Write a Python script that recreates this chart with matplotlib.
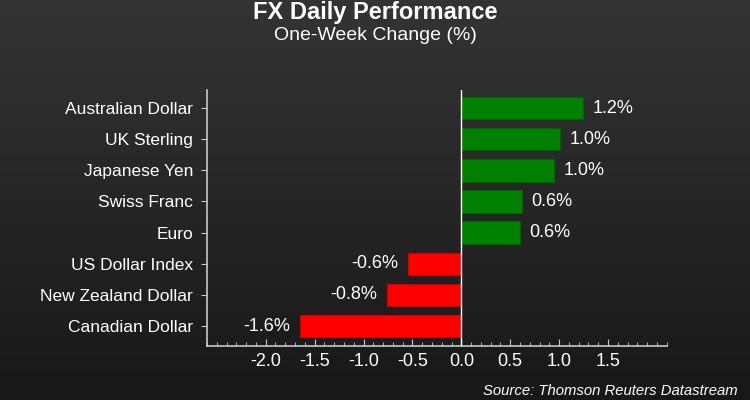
import numpy as np
import matplotlib.pyplot as plt
from matplotlib.ticker import MultipleLocator
from matplotlib.colors import LinearSegmentedColormap

# Daten
waehrungen = ['Australian Dollar', 'UK Sterling', 'Japanese Yen', 'Swiss Franc',
              'Euro', 'US Dollar Index', 'New Zealand Dollar', 'Canadian Dollar']
aenderung = [1.24, 1.01, 0.95, 0.62, 0.60, -0.55, -0.76, -1.65]
beschriftung = ['1.2%', '1.0%', '1.0%', '0.6%', '0.6%', '-0.6%', '-0.8%', '-1.6%']
x_ticks = [-2.0, -1.5, -1.0, -0.5, 0.0, 0.5, 1.0, 1.5]

plt.rcParams['font.family'] = ['Liberation Sans', 'DejaVu Sans']

fig = plt.figure(figsize=(7.5, 4), dpi=100)

# Hintergrund mit Verlauf
bg = fig.add_axes([0, 0, 1, 1], zorder=-1)
verlauf = np.linspace(0, 1, 256).reshape(-1, 1)
bg.imshow(verlauf, aspect='auto', extent=[0, 1, 0, 1],
          cmap=LinearSegmentedColormap.from_list('bg', ['#343434', '#181818']))
bg.axis('off')

ax = fig.add_axes([0.276, 0.135, 0.613, 0.64])
ax.set_facecolor('none')

y = np.arange(len(waehrungen))
farben = ['#008000' if v >= 0 else '#ff0000' for v in aenderung]
kanten = ['#006400' if v >= 0 else '#d00000' for v in aenderung]
ax.barh(y, aenderung, height=0.72, color=farben, edgecolor=kanten, linewidth=0.8, zorder=2)

for yi, v, txt in zip(y, aenderung, beschriftung):
    if v >= 0:
        ax.annotate(txt, (v, yi), xytext=(7, 0), textcoords='offset points',
                    ha='left', va='center', color='white', fontsize=13)
    else:
        ax.annotate(txt, (v, yi), xytext=(-7, 0), textcoords='offset points',
                    ha='right', va='center', color='white', fontsize=13)

ax.axvline(0, color='white', linewidth=1, zorder=3)

ax.set_xlim(-2.6, 2.1)
ax.set_ylim(len(waehrungen) - 0.36, -0.58)
ax.set_yticks(y)
ax.set_yticklabels(waehrungen, color='white', fontsize=12.5)
ax.set_xticks(x_ticks)
ax.set_xticklabels(['%.1f' % t for t in x_ticks], color='white', fontsize=13)
ax.xaxis.set_minor_locator(MultipleLocator(0.1))

ax.tick_params(axis='x', which='major', direction='in', length=5, color='#c8c8c8', pad=5)
ax.tick_params(axis='x', which='minor', direction='in', length=3, color='#c8c8c8')
ax.tick_params(axis='y', direction='out', length=4, color='#c8c8c8', pad=6)

for s in ['top', 'right']:
    ax.spines[s].set_visible(False)
for s in ['left', 'bottom']:
    ax.spines[s].set_color('#c8c8c8')
    ax.spines[s].set_linewidth(1.2)

fig.text(0.5, 0.968, 'FX Daily Performance', ha='center', va='center',
         color='white', fontsize=17, fontweight='bold')
fig.text(0.5, 0.91, 'One-Week Change (%)', ha='center', va='center',
         color='white', fontsize=14)
fig.text(0.983, 0.022, 'Source: Thomson Reuters Datastream', ha='right', va='center',
         color='white', fontsize=10.7, style='italic')

plt.savefig('out.png', dpi=100)
